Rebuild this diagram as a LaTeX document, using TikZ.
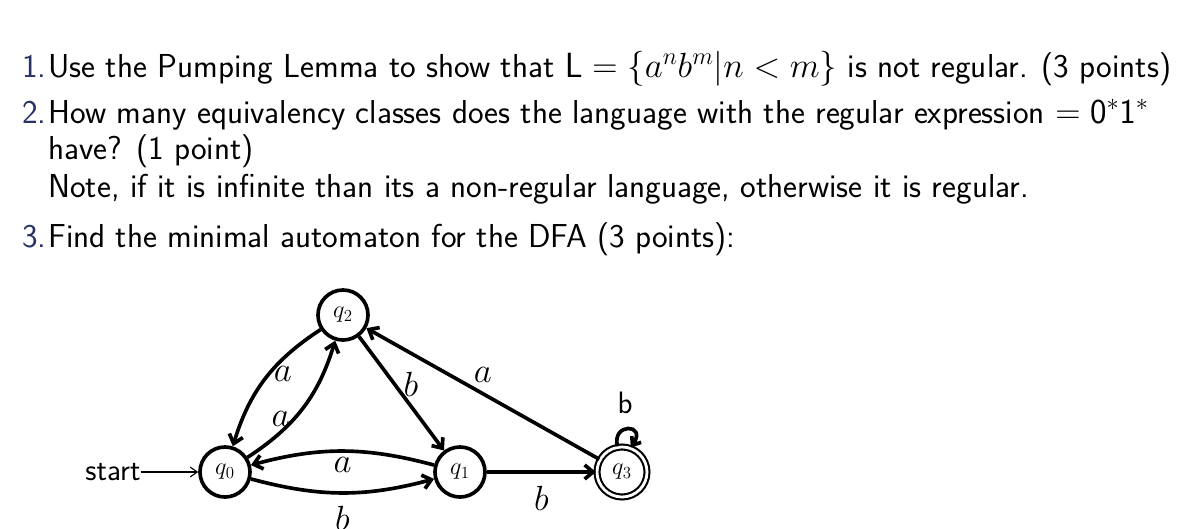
\documentclass[tikz,border=0pt]{standalone}
\renewcommand{\familydefault}{\sfdefault}
\usetikzlibrary{arrows.meta}
\definecolor{numblue}{RGB}{40,50,100}
\begin{document}
\begin{tikzpicture}[x=0.025cm,y=-0.025cm,
  txt/.style={anchor=base west,inner sep=0,font=\fontsize{23.6}{28}\selectfont},
  num/.style={anchor=base west,inner sep=0,font=\fontsize{23.6}{28}\selectfont,text=numblue},
  st/.style={circle,draw,line width=2.6pt,minimum size=1.25cm,inner sep=0,font=\fontsize{18}{20}\selectfont},
  acc/.style={st,double,double distance=2pt,line width=1.5pt},
  tr/.style={line width=2.6pt,-{Straight Barb[length=6pt,width=10pt]}},
  lab/.style={font=\fontsize{25}{28}\selectfont,inner sep=0}]
\useasboundingbox (0,0) rectangle (1178,528);
\node[num] (n1) at (22,77) {1.};
\node[txt] (t1) at (48,77) {Use the Pumping Lemma to show that $\mathsf{L}=\{a^nb^m|n<m\}$ is not regular. (3 points)};
\node[num] (n2) at (22,123) {2.};
\node[txt] (t2) at (48,123) {How many equivalency classes does the language with the regular expression $=\mathsf{0^*1^*}$};
\node[txt] (t2b) at (48,159) {have? (1 point)};
\node[txt] (t2c) at (48,197) {Note, if it is infinite than its a non-regular language, otherwise it is regular.};
\node[num] (n3) at (22,247) {3.};
\node[txt] (t3) at (48,247) {Find the minimal automaton for the DFA (3 points):};

\node[st] (q2) at (343,315) {$q_2$};
\node[st] (q0) at (225,472) {$q_0$};
\node[st] (q1) at (460,472) {$q_1$};
\node[acc] (q3) at (622,472) {$q_3$};
\node[lab,font=\fontsize{22}{24}\selectfont] (start) at (113,472) {start};
\draw[-{Straight Barb[length=5pt,width=7pt]},line width=0.8pt] (start) -- (q0);
\draw[tr] (q2) to[bend right=20] node[lab,pos=0.45,right=2pt] (la1) {$a$} (q0);
\draw[tr] (q0) to[bend right=20] node[lab,pos=0.4,left=2pt] (la2) {$a$} (q2);
\draw[tr] (q2) -- node[lab,pos=0.42,right=5pt] (lb1) {$b$} (q1);
\draw[tr] (q3) -- node[lab,pos=0.5,above=7pt] (la3) {$a$} (q2);
\draw[tr] (q1) to[bend right=15] node[lab,below=3pt] (la4) {$a$} (q0);
\draw[tr] (q0) to[bend right=15] node[lab,below=8pt] (lb2) {$b$} (q1);
\draw[tr] (q1) -- node[lab,below=9pt] (lb3) {$b$} (q3);
\draw[line width=2.6pt,-{Straight Barb[length=5pt,width=8pt]}] (q3.100) .. controls +(-6,-24) and +(16,-24) .. (q3.70);
\node[lab,font=\fontsize{22}{24}\selectfont] (lb4) at (625,403) {b};
\end{tikzpicture}
\end{document}
